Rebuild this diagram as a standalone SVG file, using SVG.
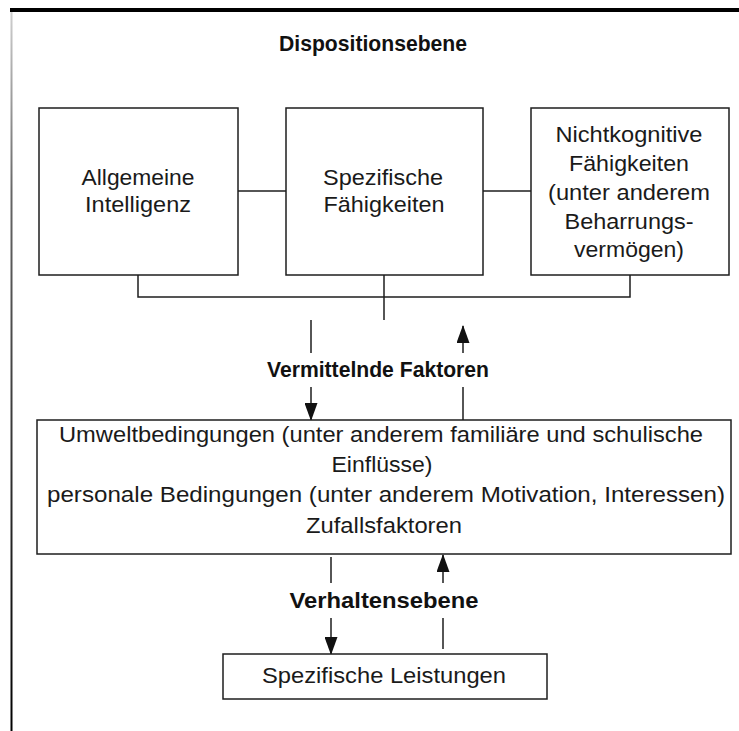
<svg xmlns="http://www.w3.org/2000/svg" width="739" height="731" viewBox="0 0 739 731">
<style>
.box{fill:#fff;stroke:#1e1e1e;stroke-width:1.5}
.ln{fill:none;stroke:#1e1e1e;stroke-width:1.5}
.t{font-family:"Liberation Sans",Arial,sans-serif;font-size:22.5px;fill:#1a1a1a;text-anchor:middle}
.b{font-family:"Liberation Sans",Arial,sans-serif;font-size:22px;font-weight:bold;fill:#111;text-anchor:middle}
</style>
<defs>
<linearGradient id="lb" x1="0" y1="0" x2="0" y2="1">
<stop offset="0" stop-color="#cfcfcf"/>
<stop offset="0.25" stop-color="#666"/>
<stop offset="1" stop-color="#000"/>
</linearGradient>
<marker id="ah" markerUnits="userSpaceOnUse" markerWidth="18" markerHeight="13" refX="17" refY="6.5" orient="auto" viewBox="0 0 18 13">
<path d="M0,0 L18,6.5 L0,13 Z" fill="#111"/>
</marker>
</defs>
<rect width="739" height="731" fill="#fff"/>
<rect x="10" y="8" width="729" height="4" fill="#000"/>
<rect x="10.5" y="12" width="2" height="719" fill="url(#lb)"/>
<text class="b" x="373" y="51" textLength="188" lengthAdjust="spacingAndGlyphs">Dispositionsebene</text>

<g id="connectors">
<line class="ln" x1="238" y1="191" x2="286" y2="191"/>
<line class="ln" x1="483" y1="191" x2="531" y2="191"/>
<polyline class="ln" points="138,275 138,297 630,297 630,275"/>
<line class="ln" x1="384" y1="275" x2="384" y2="320"/>
<line class="ln" x1="311" y1="320" x2="311" y2="353"/>
<line class="ln" x1="311" y1="387" x2="311" y2="420" marker-end="url(#ah)"/>
<line class="ln" x1="463" y1="353" x2="463" y2="326" marker-end="url(#ah)"/>
<line class="ln" x1="463" y1="387" x2="463" y2="420"/>
<line class="ln" x1="331" y1="557" x2="331" y2="583"/>
<line class="ln" x1="331" y1="618" x2="331" y2="654" marker-end="url(#ah)"/>
<line class="ln" x1="443" y1="583" x2="443" y2="555" marker-end="url(#ah)"/>
<line class="ln" x1="443" y1="618" x2="443" y2="649"/>
</g>

<g id="label-vermittelnde">
<text class="b" x="378" y="377" textLength="222" lengthAdjust="spacingAndGlyphs">Vermittelnde Faktoren</text>
</g>
<g id="label-verhaltensebene">
<text class="b" x="384" y="608" textLength="189" lengthAdjust="spacingAndGlyphs">Verhaltensebene</text>
</g>

<g id="allgemeine-intelligenz">
<rect class="box" x="39" y="108" width="199" height="167"/>
<text class="t" x="138" y="185" textLength="113" lengthAdjust="spacingAndGlyphs">Allgemeine</text>
<text class="t" x="138" y="212" textLength="106" lengthAdjust="spacingAndGlyphs">Intelligenz</text>
</g>

<g id="spezifische-faehigkeiten">
<rect class="box" x="286" y="108" width="197" height="167"/>
<text class="t" x="383" y="185" textLength="120" lengthAdjust="spacingAndGlyphs">Spezifische</text>
<text class="t" x="384" y="212" textLength="121" lengthAdjust="spacingAndGlyphs">Fähigkeiten</text>
</g>

<g id="nichtkognitive-faehigkeiten">
<rect class="box" x="531" y="108" width="198" height="167"/>
<text class="t" x="629" y="142" textLength="147" lengthAdjust="spacingAndGlyphs">Nichtkognitive</text>
<text class="t" x="629" y="171" textLength="120" lengthAdjust="spacingAndGlyphs">Fähigkeiten</text>
<text class="t" x="629" y="200" textLength="162" lengthAdjust="spacingAndGlyphs">(unter anderem</text>
<text class="t" x="629" y="229" textLength="129" lengthAdjust="spacingAndGlyphs">Beharrungs-</text>
<text class="t" x="629" y="257" textLength="110" lengthAdjust="spacingAndGlyphs">vermögen)</text>
</g>

<g id="vermittelnde-faktoren">
<rect class="box" x="37" y="420" width="694" height="134"/>
<text class="t" x="381" y="442" textLength="644" lengthAdjust="spacingAndGlyphs">Umweltbedingungen (unter anderem familiäre und schulische</text>
<text class="t" x="382" y="472" textLength="101" lengthAdjust="spacingAndGlyphs">Einflüsse)</text>
<text class="t" x="386" y="502" textLength="678" lengthAdjust="spacingAndGlyphs">personale Bedingungen (unter anderem Motivation, Interessen)</text>
<text class="t" x="384" y="533" textLength="156" lengthAdjust="spacingAndGlyphs">Zufallsfaktoren</text>
</g>

<g id="spezifische-leistungen">
<rect class="box" x="223" y="654" width="324" height="45"/>
<text class="t" x="384" y="683" textLength="244" lengthAdjust="spacingAndGlyphs">Spezifische Leistungen</text>
</g>
</svg>
